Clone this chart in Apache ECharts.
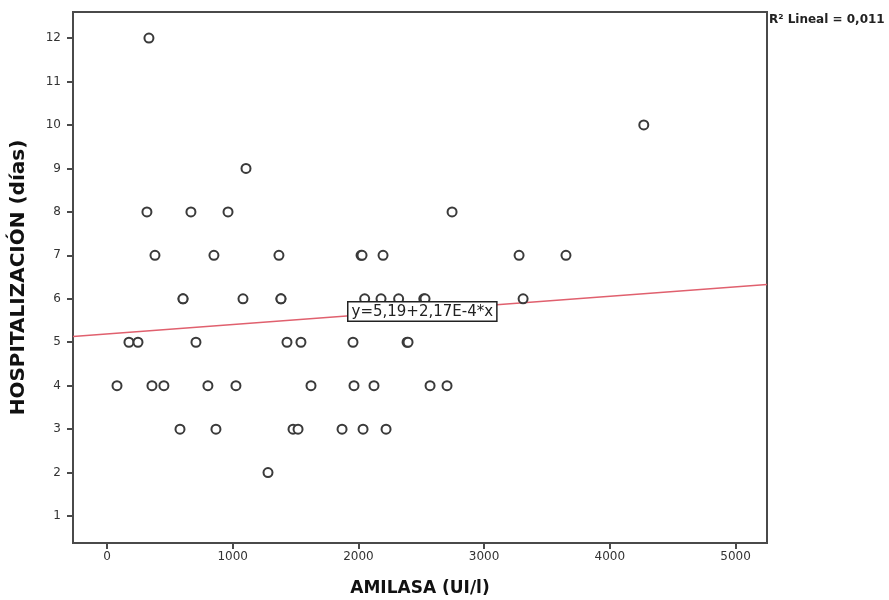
<!DOCTYPE html>
<html>
<head>
<meta charset="utf-8">
<title>Amilasa vs hospitalización</title>
<script src="https://cdn.jsdelivr.net/npm/echarts@6/dist/echarts.min.js"></script>
<style>
  html, body { margin: 0; padding: 0; background: #fff; }
  #chart { width: 889px; height: 600px; }
</style>
</head>
<body>
<div id="chart"></div>
<script>
// valores (pares x,y)
var amilasa = [
    334,
    4270,
    1106,
    318, 668, 963, 2745,
    382, 851, 1368, 2021, 2029, 2196, 3278, 3651,
    605, 605, 1082, 1384, 1384, 2050, 2180, 2320, 2520, 2530, 3310,
    175, 247, 708, 1432, 1543, 1957, 2387, 2395,
    80, 358, 453, 803, 1026, 1623, 1965, 2124, 2570, 2705,
    581, 867, 1480, 1520, 1870, 2037, 2220,
    1281
];
var dias = [
    12,
    10,
    9,
    8, 8, 8, 8,
    7, 7, 7, 7, 7, 7, 7, 7,
    6, 6, 6, 6, 6, 6, 6, 6, 6, 6, 6,
    5, 5, 5, 5, 5, 5, 5, 5,
    4, 4, 4, 4, 4, 4, 4, 4, 4, 4,
    3, 3, 3, 3, 3, 3, 3,
    2
];
var xTicks = [0, 1000, 2000, 3000, 4000, 5000];
var yTicks = [1, 2, 3, 4, 5, 6, 7, 8, 9, 10, 11, 12];

// recta de regresion: y = 5,19 + 2,17E-4 * x
var intercepto = 5.19;
var pendiente = 2.17e-4;

(function(window, document, undefined) {
    var xMin = -270, xMax = 5250,
        yMin = 0.38, yMax = 12.6,
        font = 'DejaVu Sans',
        frameColor = '#4a4a4a',
        points = [], linea = [];

    for (var i = 0; i < amilasa.length; i++) {
        points.push([amilasa[i], dias[i]]);
    }
    linea.push([xMin, intercepto + pendiente * xMin]);
    linea.push([xMax, intercepto + pendiente * xMax]);

    var plain = function(v) { return String(v); };

    var chart = echarts.init(document.getElementById('chart'), null, { renderer: 'canvas' });

    chart.setOption({
        animation: false,
        backgroundColor: '#fff',
        grid: {
            left: 73, right: 122, top: 12, bottom: 57,
            outerBoundsMode: 'none',
            containLabel: false,
            show: true,
            borderColor: frameColor,
            borderWidth: 2,
            backgroundColor: '#fff'
        },
        xAxis: {
            type: 'value',
            min: xMin,
            max: xMax,
            name: 'AMILASA (UI/l)',
            nameLocation: 'middle',
            nameGap: 37,
            nameTextStyle: { fontFamily: font, fontWeight: 'bold', fontSize: 17, color: '#111' },
            axisLine: { show: false, onZero: false },
            splitLine: { show: false },
            axisTick: { show: true, length: 6, customValues: xTicks, lineStyle: { color: frameColor, width: 2 } },
            axisLabel: { customValues: xTicks, formatter: plain, fontFamily: font, fontSize: 12, color: '#333', margin: 8 }
        },
        yAxis: {
            type: 'value',
            min: yMin,
            max: yMax,
            name: 'HOSPITALIZACIÓN (días)',
            nameLocation: 'middle',
            nameGap: 44,
            nameRotate: 90,
            nameTextStyle: { fontFamily: font, fontWeight: 'bold', fontSize: 20, color: '#111' },
            axisLine: { show: false, onZero: false },
            splitLine: { show: false },
            axisTick: { show: true, length: 6, customValues: yTicks, lineStyle: { color: frameColor, width: 2 } },
            axisLabel: { customValues: yTicks, formatter: plain, fontFamily: font, fontSize: 12, color: '#333', margin: 12 }
        },
        series: [{
            type: 'line',
            data: linea,
            showSymbol: false,
            silent: true,
            z: 1,
            lineStyle: { color: '#e0606e', width: 1.5 }
        }, {
            type: 'scatter',
            data: points,
            symbol: 'circle',
            symbolSize: 9,
            z: 3,
            itemStyle: { color: '#fff', borderColor: '#3a3a3a', borderWidth: 2, opacity: 1 }
        }],
        graphic: [{
            type: 'text',
            left: 347,
            top: 301,
            z: 10,
            style: {
                text: 'y=5,19+2,17E-4*x',
                font: '15px "DejaVu Sans"',
                fill: '#222',
                backgroundColor: '#fff',
                borderColor: '#222',
                borderWidth: 1.5,
                padding: [2, 3, 1, 3]
            }
        }, {
            type: 'text',
            left: 769,
            top: 14,
            style: {
                text: 'R² Lineal = 0,011',
                font: 'bold 12px "DejaVu Sans"',
                fill: '#222'
            }
        }]
    });
})(window, document);
</script>
</body>
</html>
